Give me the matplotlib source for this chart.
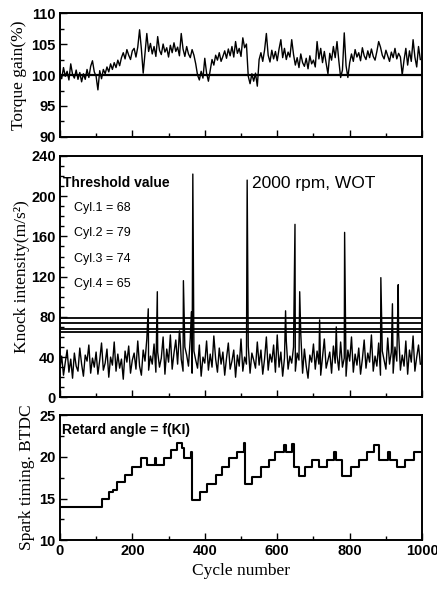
import numpy as np
import matplotlib
matplotlib.use('Agg')
import matplotlib.pyplot as plt
from matplotlib.ticker import MultipleLocator

# torque gain (%) every 5 cycles
torque_cycles = np.arange(0, 1000, 5)
torque_gain = [
    100.3, 99.4, 101.2, 99.8, 100.6, 99.2, 101.8, 100.1, 99.5, 100.8, 99.3, 100.4,
    98.9, 100.2, 99.3, 100.9, 99.6, 101.4, 102.3, 100.5, 99.8, 97.6, 100.7, 99.4,
    100.9, 100.2, 101.3, 100.5, 101.8, 100.9, 102.0, 101.2, 102.4, 101.5,
    102.8, 103.6, 102.6, 104.1, 103.2, 102.5, 103.9, 104.3, 102.9, 104.5,
    107.3, 104.2, 100.3, 103.5, 106.7, 103.8,
    105.1, 103.4, 104.6, 103.0, 106.2, 104.0,
    103.3, 105.0, 103.7, 104.4, 102.9, 104.8, 103.6, 105.2, 103.8, 104.5, 103.1, 106.7,
    104.2, 103.0, 104.6, 103.4, 102.8, 104.1, 103.2, 101.8,
    100.0, 99.2, 100.6, 99.5, 102.7, 100.3, 99.0, 100.8,
    102.5, 101.6, 103.2, 102.4, 103.6, 102.2, 103.0, 103.9, 102.7, 104.2, 103.1, 104.6,
    102.9, 105.4, 103.5, 104.3, 103.0,
    106.0, 104.4, 105.0,
    99.8, 98.6, 100.2, 99.0, 100.3, 98.2,
    102.5, 103.6, 102.2, 104.0,
    106.7,
    103.2, 102.1, 104.0, 102.6, 103.8, 102.3, 104.2,
    105.7,
    102.8, 104.3, 102.5, 103.7, 102.9,
    105.7,
    103.3, 101.6, 102.8, 101.2, 103.4, 102.0, 101.4, 102.7, 101.0, 103.1, 101.8, 102.4, 101.3,
    105.4,
    102.6, 104.3, 102.0, 103.8, 101.9, 100.2, 103.5, 102.4, 104.6, 102.8,
    105.4,
    102.3, 99.6, 100.8, 106.8, 101.5, 99.6, 102.0,
    103.4, 102.2, 104.1, 102.9, 103.6, 102.3, 104.4, 103.1, 102.5, 103.9, 102.8, 104.2,
    103.0, 102.4, 103.8, 105.4, 104.5, 103.2, 102.6, 104.0, 103.1, 102.2, 103.7, 102.8,
    104.3, 102.6, 103.5, 102.9,
    100.0,
    102.4, 104.3, 101.6, 103.9, 102.2, 105.7, 102.9, 101.3, 104.6, 102.5,
]

# knock intensity baseline every 5 cycles
knock_cycles = np.arange(0, 1000, 5)
knock_base = [
    28, 41, 22, 35, 47, 25, 38, 19, 44, 31,
    26, 49, 33, 21, 42, 36, 52, 24, 39, 30,
    45, 23, 37, 54, 27, 34, 48, 20, 40, 32,
    55, 26, 43, 29, 38, 18, 46, 35, 51, 24,
    37, 44, 28, 56, 31, 22, 47, 36, 58, 27,
    41, 33, 53, 25, 45, 30, 39, 60, 23, 48,
    35, 62, 28, 44, 57, 33, 66, 38, 26, 50,
    42, 31, 59, 24, 46, 37, 29, 52, 21, 40,
    34, 56, 27, 43, 30, 61, 38, 25, 49, 33,
    45, 22, 39, 54, 28, 36, 47, 20, 42, 31,
    58, 26, 40, 33, 51, 24, 44, 37, 29, 55,
    32, 47, 23, 38, 60, 27, 43, 35, 52, 25,
    62, 30, 45, 21, 39, 56, 28, 41, 34, 50,
    26, 44, 37, 63, 24, 48, 31, 19, 42, 35,
    53, 28, 46, 33, 22, 40, 58, 29, 37, 45,
    24, 51, 34, 42, 27, 55, 30, 39, 21, 47,
    36, 60, 25, 43, 32, 49, 23, 38, 57, 29,
    44, 35, 62, 26, 41, 31, 54, 22, 46, 37,
    28, 59, 33, 45, 24, 50, 36, 64, 27, 42,
    31, 56, 23, 47, 35, 61, 26, 40, 52, 33,
]
# knocking cycles
spike_cycles = [244, 269, 331, 341, 363, 367, 517, 623, 649, 662, 717, 763, 786, 886, 918, 934]
spike_values = [88, 105, 65, 116, 85, 222, 216, 86, 172, 105, 77, 70, 164, 119, 93, 112]

thresholds = [68, 79, 74, 65]
cyl_labels = ['Cyl.1 = 68', 'Cyl.2 = 79', 'Cyl.3 = 74', 'Cyl.4 = 65']

# spark timing steps (cycle where level starts, level in deg BTDC)
step_cycles = [0, 115, 135, 147, 158, 181, 200, 223, 241, 262, 265, 287, 306, 324, 336, 343,
               361, 364, 388, 407, 430, 448, 467, 490, 508, 512, 530, 554, 577, 595, 619,
               623, 641, 646, 660, 678, 697, 715, 738, 758, 762, 780, 803, 826, 849, 867,
               881, 906, 910, 931, 954, 977, 1000]
step_values = [14, 15, 15.8, 16, 17, 17.8, 18.8, 19.8, 19, 19.8, 19, 19.8, 20.8, 21.7, 21, 19.8,
               20.6, 14.8, 15.8, 16.8, 17.8, 18.8, 19.8, 20.6, 21.6, 16.8, 17.6, 18.8, 19.6, 20.6, 21.4,
               20.6, 21.5, 18.8, 17.7, 18.8, 19.6, 18.8, 19.6, 20.6, 19.6, 17.7, 18.8, 19.6, 20.6, 21.4,
               19.6, 20.6, 19.6, 18.8, 19.6, 20.6, 20.6]

sans = ['Liberation Sans', 'DejaVu Sans']
serif = ['Liberation Serif', 'DejaVu Serif']

fig = plt.figure(figsize=(4.37, 5.93), dpi=100)
ax1 = fig.add_axes([0.137, 0.769, 0.829, 0.209])
ax2 = fig.add_axes([0.137, 0.330, 0.829, 0.407])
ax3 = fig.add_axes([0.137, 0.089, 0.829, 0.211])

for ax in (ax1, ax2, ax3):
    ax.set_xlim(0, 1000)
    ax.xaxis.set_major_locator(MultipleLocator(200))
    ax.xaxis.set_minor_locator(MultipleLocator(100))
    ax.tick_params(which='both', direction='in', width=1.0, labelsize=10.5, pad=3)
    ax.tick_params(which='major', length=5)
    ax.tick_params(which='minor', length=3)
    for s in ax.spines.values():
        s.set_linewidth(1.4)

# top: torque gain
ax1.plot(torque_cycles, torque_gain, color='black', lw=1.0)
ax1.axhline(100, color='black', lw=1.6)
ax1.set_ylim(90, 110)
ax1.yaxis.set_major_locator(MultipleLocator(5))
ax1.yaxis.set_minor_locator(MultipleLocator(2.5))
ax1.set_xticklabels([])
ax1.set_ylabel('Torque gain(%)', family=serif, fontsize=12.5, labelpad=3)

# middle: knock intensity
kx = np.concatenate([knock_cycles, spike_cycles])
ky = np.concatenate([knock_base, spike_values])
order = np.argsort(kx, kind='stable')
ax2.plot(kx[order], ky[order], color='black', lw=1.0)
for t in thresholds:
    ax2.axhline(t, color='black', lw=1.3)
ax2.set_ylim(0, 240)
ax2.yaxis.set_major_locator(MultipleLocator(40))
ax2.yaxis.set_minor_locator(MultipleLocator(10))
ax2.set_xticklabels([])
ax2.set_ylabel('Knock intensity(m/s²)', family=serif, fontsize=12.5, labelpad=1)
ax2.text(8, 213, 'Threshold value', family=sans, weight='bold', fontsize=10, va='center')
for i, lab in enumerate(cyl_labels):
    ax2.text(40, 188 - 25 * i, lab, family=sans, fontsize=9, va='center')
ax2.text(530, 213, '2000 rpm, WOT', family=sans, fontsize=12.5, va='center')

# bottom: spark timing
ax3.plot(step_cycles, step_values, color='black', lw=1.5, drawstyle='steps-post')
ax3.set_ylim(10, 25)
ax3.yaxis.set_major_locator(MultipleLocator(5))
ax3.yaxis.set_minor_locator(MultipleLocator(2.5))
ax3.set_ylabel('Spark timing. BTDC', family=serif, fontsize=12.5, labelpad=3)
ax3.set_xlabel('Cycle number', family=serif, fontsize=12.5, labelpad=3)
ax3.text(5, 23.2, 'Retard angle = f(KI)', family=sans, weight='bold', fontsize=10, va='center')

for ax in (ax1, ax2, ax3):
    for lab in ax.get_yticklabels() + ax.get_xticklabels():
        lab.set_family(sans)
        lab.set_weight('bold')

fig.savefig('out.png', dpi=100)
